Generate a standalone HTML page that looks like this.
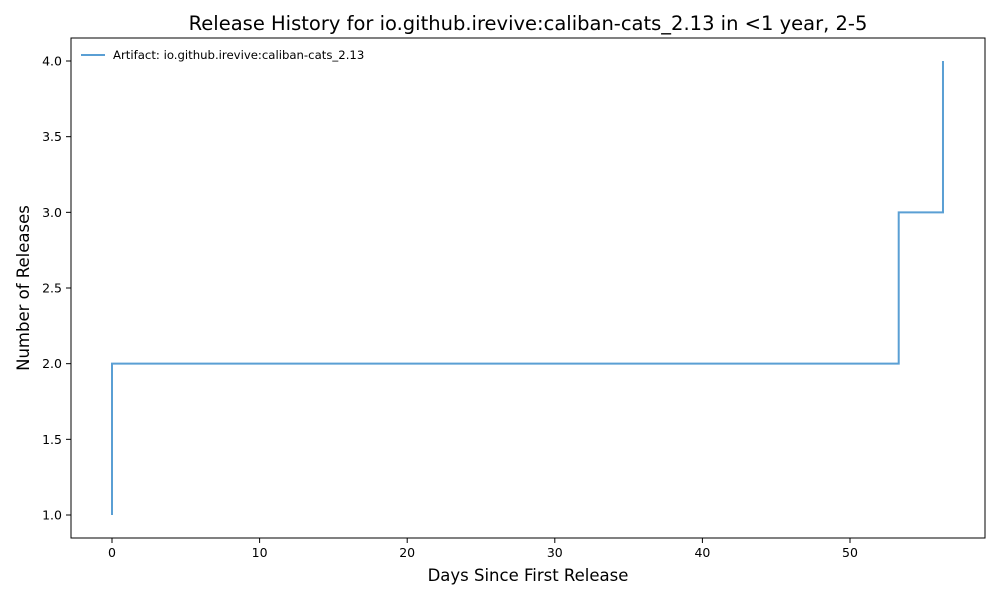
<!DOCTYPE html>
<html><head><meta charset="utf-8"><style>
body{margin:0;background:#fff;}
svg text{font-family:"DejaVu Sans","Liberation Sans",sans-serif;fill:#000;}
</style></head><body>
<svg id="chart" width="1000" height="600">
<rect width="1000" height="600" fill="#fff"/>
<text x="528" y="30" font-size="19.5" text-anchor="middle">Release History for io.github.irevive:caliban-cats_2.13 in &lt;1 year, 2-5</text>
<g id="axes"></g>
<g id="marks"></g>
<rect x="71" y="38" width="914" height="500" fill="none" stroke="#000" stroke-width="1"/>
<text x="528" y="581" font-size="16.5" text-anchor="middle">Days Since First Release</text>
<text transform="translate(29,288) rotate(-90)" font-size="16.5" text-anchor="middle">Number of Releases</text>
<g>
<line x1="81" y1="55" x2="105" y2="55" stroke="#5a9fd4" stroke-width="2"/>
<text x="113" y="59" font-size="11.7">Artifact: io.github.irevive:caliban-cats_2.13</text>
</g>
</svg>
<script>
const days = [0, 0, 53.3, 56.3];
const releases = [1, 2, 3, 4];
const xTicks = [0, 10, 20, 30, 40, 50];
const yTicks = [1.0, 1.5, 2.0, 2.5, 3.0, 3.5, 4.0];
const NS = "http://www.w3.org/2000/svg";
function xs(v){return 112 + v * 14.76;}
function ys(v){return 515 - (v - 1) * 151.33;}
const axes = document.getElementById('axes');
const marks = document.getElementById('marks');
function mk(tag, attrs, parent){const e=document.createElementNS(NS,tag);for(const k in attrs)e.setAttribute(k,attrs[k]);parent.appendChild(e);return e;}
xTicks.forEach(t=>{
  const x=xs(t);
  const l=mk('line',{x1:x,x2:x,y1:538,y2:543,stroke:'#000'},axes);
  
  
  const tx=mk('text',{x:x,y:557,'font-size':12.5,'text-anchor':'middle'},axes);
  tx.textContent=String(t);
  
  
});
yTicks.forEach(t=>{
  const y=ys(t);
  const l=mk('line',{x1:66,x2:71,y1:y,y2:y,stroke:'#000'},axes);
  
  
  const tx=mk('text',{x:62,y:y+4.5,'font-size':12.5,'text-anchor':'end'},axes);
  tx.textContent=t.toFixed(1);
  
  
});
let d='';
for(let i=0;i<days.length;i++){
  if(i===0) d+='M'+xs(days[0])+' '+ys(releases[0]);
  else d+=' L'+xs(days[i])+' '+ys(releases[i-1])+' L'+xs(days[i])+' '+ys(releases[i]);
}
const p=mk('path',{d:d,fill:'none',stroke:'#5a9fd4','stroke-width':2},marks);


</script>
</body></html>
